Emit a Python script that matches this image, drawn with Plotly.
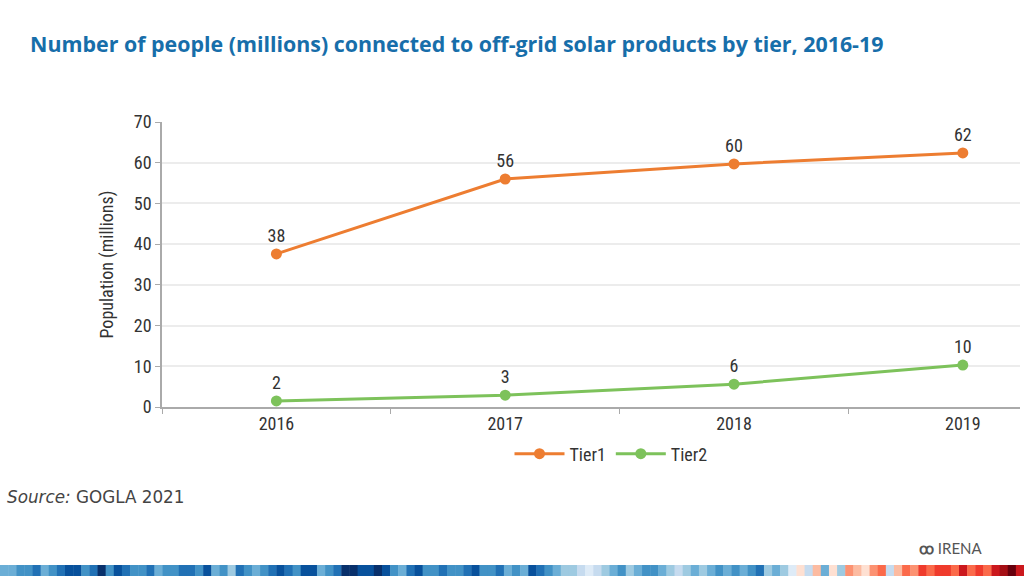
import plotly.graph_objects as go

years = ["2016", "2017", "2018", "2019"]
tier1 = [37.6, 56.0, 59.7, 62.4]
tier2 = [1.5, 2.9, 5.6, 10.3]
y_ticks = [0, 10, 20, 30, 40, 50, 60, 70]

title_text = "Number of people (millions) connected to off-grid solar products by tier, 2016-19"
y_title = "Population (millions)"
source_text = "<i>Source:</i> GOGLA 2021"

ORANGE = "#ED7D31"
GREEN = "#7DC25B"
NARROW = "Roboto Condensed, Liberation Sans Narrow, Roboto, sans-serif"

# decorative warming-stripe band at the bottom
stripe_palette = {
    "1": "#08306b", "2": "#08519c", "3": "#2171b5", "4": "#4292c6",
    "5": "#6baed6", "6": "#9ecae1", "7": "#c6dbef", "8": "#deebf7",
    "a": "#fee0d2", "b": "#fcbba1", "c": "#fc9272", "d": "#fb6a4a",
    "e": "#ef3b2c", "f": "#cb181d", "g": "#a50f15", "h": "#67000d",
}
stripe_codes = (
    "5544354322431423443544334254634543234225431"
    "1221245324434432443545234566787654654456765"
    "654545436568a7b5a6cbacd7bdcedeedfdedfghf"
)

fig = go.Figure()
fig.add_trace(go.Scatter(
    x=years, y=tier1, name="Tier1", mode="lines+markers+text",
    line=dict(color=ORANGE, width=3), marker=dict(color=ORANGE, size=11),
    text=[f"{v:.0f}" for v in tier1], textposition="top center",
    textfont=dict(family=NARROW, size=18, color="#333333"),
    cliponaxis=False,
))
fig.add_trace(go.Scatter(
    x=years, y=tier2, name="Tier2", mode="lines+markers+text",
    line=dict(color=GREEN, width=3), marker=dict(color=GREEN, size=11),
    text=[f"{v:.0f}" for v in tier2], textposition="top center",
    textfont=dict(family=NARROW, size=18, color="#333333"),
    cliponaxis=False,
))

shapes = []
n = len(stripe_codes)
x_left, x_right = -162 / 858, (1024 - 162) / 858
w = (x_right - x_left) / n
for i, c in enumerate(stripe_codes):
    shapes.append(dict(
        type="rect", xref="paper", yref="paper",
        x0=x_left + i * w, x1=x_left + (i + 1) * w + 0.0005,
        y0=(407 - 576) / 285, y1=(407 - 565) / 285,
        fillcolor=stripe_palette[c], line=dict(width=0), layer="above",
    ))

fig.update_layout(
    width=1024, height=576,
    margin=dict(l=162, r=4, t=122, b=169),
    paper_bgcolor="white", plot_bgcolor="white",
    showlegend=True,
    legend=dict(orientation="h", x=(611 - 162) / 858, xanchor="center",
                y=(407 - 454) / 285, yanchor="middle",
                font=dict(family=NARROW, size=18, color="#333333"),
                itemwidth=50, tracegroupgap=0),
    shapes=shapes,
    annotations=[
        dict(text="<b>" + title_text + "</b>", xref="paper", yref="paper",
             x=-134 / 858, y=(407 - 43) / 285, xanchor="left", yanchor="middle",
             showarrow=False, font=dict(family="Open Sans, sans-serif", size=21.4, color="#176EAA")),
        dict(text=source_text, xref="paper", yref="paper",
             x=-157 / 858, y=(407 - 497) / 285, xanchor="left", yanchor="middle",
             showarrow=False, font=dict(family="DejaVu Sans, sans-serif", size=16.8, color="#444444")),
        dict(text="<b>ꝏ</b> IRENA", xref="paper", yref="paper",
             x=(985 - 162) / 858, y=(407 - 548) / 285, xanchor="right", yanchor="middle",
             showarrow=False, font=dict(family="Lato, sans-serif", size=15, color="#555555")),
    ],
)
fig.update_xaxes(
    type="category", range=[-0.5, 3.25], tickson="boundaries",
    ticks="outside", ticklen=5, tickcolor="#aaaaaa",
    showline=True, linecolor="#aaaaaa", linewidth=1.5,
    showgrid=False,
    tickfont=dict(family=NARROW, size=18, color="#333333"),
)
fig.update_yaxes(
    range=[0, 70], tickvals=y_ticks, ticks="outside", ticklen=5, tickcolor="#aaaaaa",
    showline=True, linecolor="#aaaaaa", linewidth=1.5,
    showgrid=True, gridcolor="#ececec", gridwidth=1.5, zeroline=False,
    tickfont=dict(family=NARROW, size=18, color="#333333"),
    title=dict(text=y_title, font=dict(family=NARROW, size=18, color="#333333"), standoff=16),
)

fig.write_html("out.html", config={"displayModeBar": False},
               post_script="document.body.style.margin='0px';")
